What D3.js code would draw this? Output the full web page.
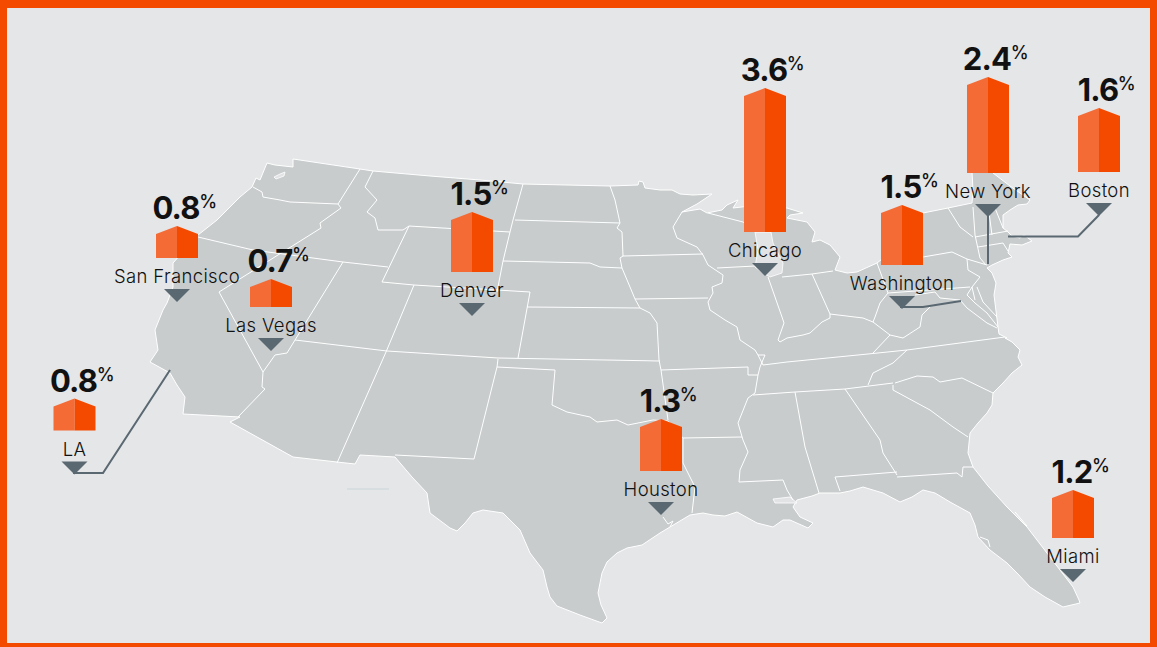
<!DOCTYPE html>
<html>
<head>
<meta charset="utf-8">
<script src="https://cdn.jsdelivr.net/npm/d3@7"></script>
<style>
  html, body { margin: 0; padding: 0; background: #e5e6e7; overflow: hidden; }
  svg { display: block; }
  text { font-family: Inter, "Noto Sans", sans-serif; fill: #111; }
</style>
</head>
<body>
<svg id="map" width="1157" height="647"></svg>
<script>
// chart values
const cities = ["San Francisco", "Las Vegas", "LA", "Denver", "Houston", "Chicago", "Washington", "New York", "Boston", "Miami"];
const values = [0.8, 0.7, 0.8, 1.5, 1.3, 3.6, 1.5, 2.4, 1.6, 1.2];
const valueLabels = ["0.8", "0.7", "0.8", "1.5", "1.3", "3.6", "1.5", "2.4", "1.6", "1.2"];

// where each city's marker points, in map coordinates
const cityPoints = [[177, 302], [271, 351], [74.5, 474.5], [472, 316], [661, 515], [765, 276], [902, 309], [988, 217], [1099, 216], [1073, 582]];

// leader lines, in map coordinates
const leaders = [
  [[170, 370], [103, 473], [73, 473]],
  [[900, 307], [923, 307], [961, 301]],
  [[988, 215], [988, 264]],
  [[1099, 215], [1078, 236.5], [1008, 236.5]]
];

// base map (planar coordinates)
const usOutline = [
  [293, 159], [360, 169], [373, 171], [430, 176], [480, 180], [523, 184], [610, 186], [638, 185], [639, 181], [643, 182], [645, 188],
  [660, 190], [672, 190], [680, 194], [693, 195], [712, 194], [697, 204], [682, 212], [700, 209], [707, 213], [722, 210], [727, 205], [738, 200], [733, 208],
  [750, 206], [787, 208], [803, 213], [790, 215], [787, 218], [807, 222], [815, 232], [812, 242], [820, 240], [830, 245], [840, 257], [835, 270],
  [847, 273], [857, 272], [877, 263], [900, 245], [923, 213], [948, 208], [972, 203], [973, 190], [972, 172], [972, 160], [992, 160], [993, 173],
  [1010, 186], [1030, 200], [1027, 204], [1018, 205], [1010, 210], [1003, 215], [1003, 228], [1008, 232], [1012, 236], [1020, 238], [1024, 235], [1032, 241], [1022, 245], [1010, 244],
  [1008, 253], [1012, 257], [1003, 260], [992, 265], [987, 268], [992, 273], [996, 283], [994, 295], [998, 327], [999, 334], [1007, 338], [1005, 338], [1012, 342], [1020, 350], [1018, 357], [1022, 365],
  [1012, 373], [1003, 383], [993, 393], [992, 405], [987, 413], [978, 423], [970, 433], [968, 453], [973, 467], [988, 486], [1007, 507], [1027, 527], [1050, 557], [1073, 587], [1079, 600], [1080, 603],
  [1063, 607], [1045, 597], [1030, 587], [1018, 574], [1007, 563], [990, 550], [978, 537], [975, 525], [970, 513], [950, 502], [935, 493], [923, 490], [912, 497], [900, 502], [883, 493], [863, 487],
  [850, 491], [840, 493], [820, 493], [812, 496], [797, 500], [793, 507], [800, 517], [813, 523], [808, 528], [790, 520], [783, 520], [773, 527], [757, 523], [737, 512], [725, 516], [713, 515], [703, 513], [690, 515],
  [670, 527], [660, 533], [642, 545], [627, 548], [617, 553], [607, 562], [602, 573], [598, 593], [601, 605], [607, 618], [602, 623], [580, 615], [557, 606], [550, 597], [547, 587], [543, 570], [530, 553], [520, 530],
  [503, 513], [483, 510], [473, 513], [465, 523], [457, 531], [450, 528], [430, 513], [427, 493], [412, 477], [395, 457], [360, 455], [355, 464], [337, 462], [293, 457], [230, 422], [240, 417], [183, 414],
  [185, 397], [177, 385], [170, 373], [150, 362], [158, 350], [155, 330], [163, 310], [167, 303], [173, 287], [173, 263], [198, 235], [217, 220], [240, 197], [252, 187], [256, 178], [260, 180], [267, 163], [275, 165], [293, 167]
];

const stateLines = [
  // northwest
  [[253, 187], [262, 192], [263, 197], [280, 200], [290, 202], [338, 204]],
  [[360, 169], [338, 204], [341, 208], [320, 223], [321, 228], [219, 292], [263, 372]],
  [[198, 237], [253, 250], [343, 262], [388, 267]],
  [[343, 262], [287, 353], [275, 355], [263, 372], [262, 387], [265, 389], [238, 417]],
  [[295, 340], [387, 351], [498, 358], [660, 361]],
  [[386, 352], [337, 463]],
  [[414, 285], [386, 352]],
  [[373, 171], [365, 187], [377, 200], [367, 212], [375, 218], [378, 230], [403, 230], [409, 226], [382, 282], [414, 285], [530, 292], [518, 358]],
  [[409, 226], [510, 232]],
  [[523, 184], [513, 220], [510, 232], [503, 261], [497, 292]],
  // plains
  [[527, 307], [640, 308]],
  [[515, 220], [620, 223]],
  [[503, 261], [590, 263], [600, 267], [622, 268]],
  [[610, 186], [615, 200], [620, 223], [617, 228], [622, 232], [623, 256], [620, 258], [622, 268], [630, 287], [635, 299], [640, 308], [650, 313], [657, 323], [659, 360], [661, 370], [668, 420]],
  [[623, 256], [703, 254]],
  [[635, 299], [708, 298]],
  [[498, 359], [497, 367], [555, 370], [552, 405], [567, 412], [590, 417], [597, 422], [617, 420], [628, 425], [653, 420], [668, 421], [683, 438], [683, 463], [695, 487], [692, 513]],
  [[497, 367], [474, 459], [395, 455]],
  [[661, 370], [748, 367], [748, 375], [758, 375]],
  [[683, 438], [742, 437]],
  // upper midwest and the Mississippi
  [[682, 212], [673, 227], [677, 238], [697, 247], [703, 255], [708, 265], [723, 275], [722, 283], [712, 287], [713, 293], [708, 302], [710, 310], [725, 320], [737, 327], [740, 340], [755, 350], [758, 355], [765, 355], [760, 367], [758, 375], [755, 393], [748, 398], [738, 423], [743, 440], [748, 452], [740, 470], [739, 482], [783, 480], [787, 490], [793, 500]],
  [[708, 213], [743, 222], [757, 232]],
  [[717, 268], [755, 266], [766, 267]],
  [[768, 277], [782, 317], [784, 323], [778, 340], [780, 342], [787, 338], [803, 335], [810, 333], [822, 322], [830, 318], [830, 314], [863, 318], [873, 322], [890, 335], [873, 353]],
  [[782, 277], [812, 274], [833, 271]],
  [[812, 274], [830, 314]],
  // Tennessee and the deep south
  [[758, 355], [763, 365], [787, 362], [868, 354], [907, 350], [1005, 337]],
  [[753, 395], [795, 392], [845, 389], [893, 383]],
  [[868, 385], [873, 373], [893, 363], [907, 350]],
  [[795, 392], [805, 447], [819, 493]],
  [[845, 389], [880, 440], [883, 453], [897, 475]],
  [[840, 491], [835, 477], [897, 472]],
  [[897, 477], [957, 473], [962, 477], [963, 467], [973, 467]],
  [[893, 385], [893, 390], [930, 410], [953, 427], [968, 437]],
  [[895, 383], [917, 376], [933, 377], [940, 382], [962, 378], [993, 393]],
  // mid atlantic
  [[877, 263], [888, 293], [880, 303], [875, 317], [873, 322]],
  [[888, 293], [970, 287]],
  [[923, 257], [952, 252], [967, 259], [968, 270], [980, 277], [972, 287], [975, 300]],
  [[967, 259], [987, 265]],
  [[915, 295], [935, 292], [940, 298], [960, 300], [967, 308]],
  [[930, 307], [922, 315], [920, 327], [903, 338], [890, 335]],
  [[972, 287], [967, 295], [975, 303], [987, 313], [998, 327]],
  [[977, 287], [983, 302], [997, 317]],
  [[967, 308], [987, 323], [997, 328]],
  // new england
  [[948, 208], [960, 227], [973, 237]],
  [[973, 207], [975, 235], [980, 258], [986, 265]],
  [[975, 237], [1008, 231]],
  [[978, 247], [1003, 243], [1008, 251]],
  [[988, 205], [990, 220], [992, 235]],
  [[995, 208], [1003, 228]],
  // small coastal inlets
  [[1015, 512], [1027, 526]],
  [[980, 537], [988, 540], [990, 547]],
  [[663, 517], [668, 524], [673, 521], [670, 527]]
];

const lakes = [
  [[755, 232], [771, 232], [773, 243], [783, 263], [782, 273], [770, 277], [763, 273], [755, 267], [758, 250]],
  [[773, 499], [790, 497], [797, 503], [788, 503], [775, 503]],
  [[274, 177], [280, 174], [285, 172], [284, 176], [276, 179]]
];

const width = 1157;
const height = 647;
const barHalf = 21;
const roofDrop = 8;
const markerGap = 44;

const projection = d3.geoIdentity();
const geoPath = d3.geoPath(projection);
const heightScale = d3.scaleLinear().domain([0, 1]).range([0, 40]);

const svg = d3.select("#map");

svg.append("rect")
  .attr("width", width)
  .attr("height", height)
  .attr("fill", "#e5e6e7");

// map
svg.append("path")
  .datum({ type: "Polygon", coordinates: [usOutline.concat([usOutline[0]])] })
  .attr("d", geoPath)
  .attr("fill", "#c8cccd")
  .attr("stroke", "#fff")
  .attr("stroke-width", 1)
  .attr("stroke-linejoin", "round");

svg.append("path")
  .datum({ type: "MultiPolygon", coordinates: lakes.map(d => [d.concat([d[0]])]) })
  .attr("d", geoPath)
  .attr("fill", "#e1e3e4")
  .attr("stroke", "#fff")
  .attr("stroke-width", 0.8);

svg.append("path")
  .datum({ type: "MultiLineString", coordinates: stateLines })
  .attr("d", geoPath)
  .attr("fill", "none")
  .attr("stroke", "#fff")
  .attr("stroke-width", 1)
  .attr("stroke-linejoin", "round");

// faint stray rule under Arizona
svg.append("path")
  .datum({ type: "LineString", coordinates: [[347, 489], [389, 489]] })
  .attr("d", geoPath)
  .attr("fill", "none")
  .attr("stroke", "#c9d5da")
  .attr("stroke-width", 1);

svg.append("g")
  .selectAll("path")
  .data(leaders)
  .enter()
  .append("path")
  .attr("d", d => geoPath({ type: "LineString", coordinates: d }))
  .attr("fill", "none")
  .attr("stroke", "#5a6872")
  .attr("stroke-width", 2);

const rows = cities.map((name, i) => ({
  name: name,
  value: values[i],
  label: valueLabels[i],
  x: projection(cityPoints[i])[0],
  y: projection(cityPoints[i])[1]
}));

const marker = svg.append("g")
  .selectAll("g")
  .data(rows)
  .enter()
  .append("g")
  .attr("transform", d => `translate(${d.x},${d.y})`);

// triangle pointing at the city
marker.append("path")
  .attr("d", "M-13,-13L13,-13L0,0Z")
  .attr("fill", "#5a6872");

// the house shaped bar, two halves
function halfBar(d, side) {
  const p = d3.path();
  const base = -markerGap;
  const top = base - heightScale(d.value);
  p.moveTo(0, base);
  p.lineTo(side * barHalf, base);
  p.lineTo(side * barHalf, top + roofDrop);
  p.lineTo(0, top);
  p.closePath();
  return p.toString();
}

marker.append("path")
  .attr("d", d => halfBar(d, -1))
  .attr("fill", "#f46b36");

marker.append("path")
  .attr("d", d => halfBar(d, 1))
  .attr("fill", "#f34a00");

marker.append("text")
  .attr("class", "city")
  .attr("y", -19)
  .attr("text-anchor", "middle")
  .attr("font-size", 18.5)
  .attr("font-weight", 300)
  .attr("letter-spacing", 0.35)
  .text(d => d.name);

const valueText = marker.append("text")
  .attr("class", "value")
  .attr("x", -1)
  .attr("y", d => -markerGap - heightScale(d.value) - 7)
  .attr("text-anchor", "middle")
  .attr("font-size", 31)
  .attr("font-weight", 700)
  .attr("letter-spacing", -0.8)
  .text(d => d.label);

marker.append("text")
  .attr("class", "percent")
  .attr("x", function (d, i) { return -1 + valueText.nodes()[i].getComputedTextLength() / 2 - 0.5; })
  .attr("y", d => -markerGap - heightScale(d.value) - 18)
  .attr("font-size", 18)
  .attr("font-weight", 500)
  .attr("letter-spacing", -0.5)
  .text("%");

// orange frame
svg.append("path")
  .attr("d", `M0,0H${width}V${height}H0ZM7,8V643H1150V8Z`)
  .attr("fill", "#f34a00")
  .attr("fill-rule", "evenodd");
</script>
</body>
</html>
